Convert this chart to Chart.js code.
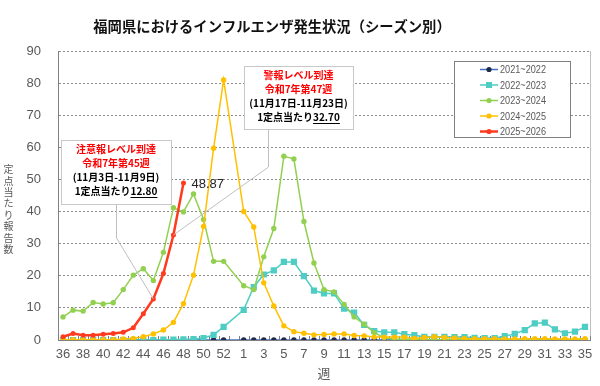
<!DOCTYPE html>
<html lang="ja">
<head>
<meta charset="UTF-8">
<title>福岡県におけるインフルエンザ発生状況</title>
<script src="https://cdn.jsdelivr.net/npm/chart.js@4.4.1/dist/chart.umd.min.js"></script>
<style>
  html, body { margin: 0; padding: 0; background: #fff; }
  #wrap { width: 600px; height: 386px; }
</style>
</head>
<body>
<div id="wrap"><canvas id="myChart"></canvas></div>
<script>
// 週 (week 36 of one year to week 35 of the next, incl. week 53 slot)
const weekLabels = ["36","37","38","39","40","41","42","43","44","45","46","47","48","49","50","51","52","53",
  "1","2","3","4","5","6","7","8","9","10","11","12","13","14","15","16","17","18","19","20",
  "21","22","23","24","25","26","27","28","29","30","31","32","33","34","35"];

const seasonNames = ["2021~2022", "2022~2023", "2023~2024", "2024~2025", "2025~2026"];

const s2021 = [0,0,0,0,0,0,0,0,0,0,0,0,0,0,0,0,0,null,
  0,0,0,0,0,0,0,0,0,0,0,0,0,0,0,0,0,0,0,0,0,0,0,0,0,0,0,0,0,0,0,0,0,0,0];
const s2022 = [0,0,0,0,0,0,0,0,0,0,0.1,0.1,0.2,0.3,0.6,1.6,4.1,null,
  9.4,16.5,20.4,21.7,24.3,24.3,19.9,15.4,14.5,14.5,9.8,8.5,4.7,2.8,2.4,2.4,1.8,1.5,
  1.0,1.0,1.0,0.9,0.9,0.7,0.6,0.6,1.2,1.9,3.1,5.2,5.4,3.3,2.1,2.6,4.1];
const s2023 = [7.2,9.3,9.0,11.7,11.2,11.6,15.7,20.2,22.2,18.5,27.3,41.2,39.9,45.5,37.5,24.5,24.5,null,
  16.9,15.7,25.9,34.7,57.2,56.4,36.9,24.0,15.7,15.0,11.1,7.2,4.9,2.3,0.7,0.3,0.2,0.2,
  0.2,0.1,0.1,0.1,0.1,0.1,0.1,0.1,0.1,0.1,0.1,0.1,0.1,0.1,0.1,0.1,0.1];
const s2024 = [0.1,0.1,0.1,0.1,0.1,0.1,0.3,0.5,1.0,1.9,3.1,5.5,11.3,20.2,35.4,59.7,81.0,null,
  40.0,35.2,17.8,10.6,4.4,2.6,2.1,1.6,1.7,1.9,1.9,1.4,1.3,0.9,0.9,0.9,0.9,0.5,
  0.8,1.0,0.8,0.6,0.5,0.4,0.4,0.4,0.3,0.3,0.4,0.4,0.4,0.3,0.3,0.3,0.4];
const s2025 = [1.0,2.0,1.5,1.5,1.8,2.0,2.4,3.8,8.2,12.8,20.7,32.7,48.87];

const yTicks = { min: 0, max: 90, step: 10 };

const seasonColors = ["#4472C4", "#4ECDC4", "#92D050", "#FFC000", "#FF3B1F"];
const markerColors = ["#1F2A4D", "#4ECDC4", "#92D050", "#FFC000", "#FF3B1F"];

// callouts for the 2025~2026 season
const callouts = [
  { l1: "警報レベル到達", l2: "令和7年第47週", l3: "(11月17日-11月23日)", pre: "1定点当たり", val: "32.70", idx: 11,
    box: [244, 66, 109, 63], elbow: [268, 167] },
  { l1: "注意報レベル到達", l2: "令和7年第45週", l3: "(11月3日-11月9日)", pre: "1定点当たり", val: "12.80", idx: 9,
    box: [61, 140, 110, 64], elbow: [116, 238] }
];

const JP = '"Noto Sans CJK JP", sans-serif';
Chart.defaults.font.family = '"Liberation Sans", "Noto Sans CJK JP", sans-serif';

const decor = {
  id: 'decor',
  beforeDatasetsDraw(chart) {
    const { ctx, chartArea: a, scales: { x } } = chart;
    ctx.save();
    ctx.strokeStyle = '#bfbfbf';
    ctx.lineWidth = 1;
    ctx.beginPath();
    ctx.moveTo(Math.round(a.right) + 0.5, a.top);
    ctx.lineTo(Math.round(a.right) + 0.5, a.bottom);
    ctx.stroke();
    // inward tick marks between categories
    const half = (x.getPixelForValue(1) - x.getPixelForValue(0)) / 2;
    ctx.strokeStyle = '#7f7f7f';
    ctx.beginPath();
    for (let i = 0; i <= weekLabels.length; i++) {
      const px = Math.round(x.getPixelForValue(i) - half) + 0.5;
      ctx.moveTo(px, a.bottom);
      ctx.lineTo(px, a.bottom - 4);
    }
    ctx.stroke();
    ctx.restore();
  },
  afterDatasetsDraw(chart) {
    const { ctx, scales: { x, y } } = chart;
    ctx.save();

    // title
    ctx.fillStyle = '#111';
    ctx.font = 'bold 14.3px ' + JP;
    ctx.textAlign = 'center';
    ctx.textBaseline = 'middle';
    ctx.fillText("福岡県におけるインフルエンザ発生状況（シーズン別）", 272, 27);

    // y axis title, stacked characters
    ctx.fillStyle = '#595959';
    ctx.font = '10px ' + JP;
    const yTitle = "定点当たり報告数";
    for (let i = 0; i < yTitle.length; i++) {
      ctx.fillText(yTitle[i], 8.5, 169.5 + i * 11.4);
    }

    // legend
    const lb = [454.5, 61.5, 116, 76];
    ctx.fillStyle = '#fff';
    ctx.fillRect(lb[0], lb[1], lb[2], lb[3]);
    ctx.strokeStyle = '#808080';
    ctx.lineWidth = 1;
    ctx.strokeRect(lb[0], lb[1], lb[2], lb[3]);
    chart.data.datasets.forEach((ds, i) => {
      const ly = 69.5 + i * 15.5;
      ctx.strokeStyle = ds.borderColor;
      ctx.lineWidth = ds.borderWidth;
      ctx.beginPath();
      ctx.moveTo(480, ly);
      ctx.lineTo(498, ly);
      ctx.stroke();
      ctx.fillStyle = ds.pointBackgroundColor;
      if (ds.pointStyle === 'rect') {
        ctx.fillRect(486, ly - 3, 6, 6);
      } else {
        ctx.beginPath();
        ctx.arc(489, ly, 2.6, 0, Math.PI * 2);
        ctx.fill();
      }
      // narrow legend text
      ctx.fillStyle = '#595959';
      ctx.font = '11.5px "Liberation Sans", sans-serif';
      ctx.textAlign = 'left';
      const w = ctx.measureText(ds.label).width;
      ctx.save();
      ctx.translate(500, ly + 0.5);
      ctx.scale(46 / w, 1);
      ctx.fillText(ds.label, 0, 0);
      ctx.restore();
    });

    // callouts
    callouts.forEach(c => {
      const px = x.getPixelForValue(c.idx);
      const py = y.getPixelForValue(s2025[c.idx]);
      const [bx, by, bw, bh] = c.box;
      ctx.strokeStyle = '#bfbfbf';
      ctx.lineWidth = 1;
      ctx.beginPath();
      ctx.moveTo(c.elbow[0] + 0.5, by + bh);
      ctx.lineTo(c.elbow[0] + 0.5, c.elbow[1]);
      ctx.lineTo(px, py);
      ctx.stroke();
      ctx.fillStyle = '#fff';
      ctx.fillRect(bx + 0.5, by + 0.5, bw, bh);
      ctx.strokeStyle = '#c8c8c8';
      ctx.strokeRect(bx + 0.5, by + 0.5, bw, bh);

      const cx = bx + bw / 2;
      ctx.textAlign = 'center';
      ctx.textBaseline = 'middle';
      ctx.font = 'bold 10px ' + JP;
      ctx.fillStyle = '#ff0000';
      ctx.fillText(c.l1, cx, by + 9.5);
      ctx.fillText(c.l2, cx, by + 23.5);
      ctx.fillStyle = '#000';
      ctx.fillText(c.l3, cx, by + 37.5);
      const wPre = ctx.measureText(c.pre).width;
      const wVal = ctx.measureText(c.val).width;
      const sx = cx - (wPre + wVal) / 2;
      ctx.textAlign = 'left';
      ctx.fillText(c.pre, sx, by + 51);
      ctx.fillText(c.val, sx + wPre, by + 51);
      ctx.fillRect(sx + wPre, by + 57, wVal, 1);
    });

    // last value label
    const last = s2025.length - 1;
    ctx.fillStyle = '#262626';
    ctx.font = '13px "Liberation Sans", sans-serif';
    ctx.textAlign = 'left';
    ctx.textBaseline = 'middle';
    ctx.fillText(String(s2025[last]), x.getPixelForValue(last) + 8, y.getPixelForValue(s2025[last]) + 1);

    ctx.restore();
  }
};

const seriesData = [s2021, s2022, s2023, s2024, s2025];
const datasets = seriesData.map((d, i) => ({
  label: seasonNames[i],
  data: d,
  borderColor: seasonColors[i],
  backgroundColor: markerColors[i],
  pointBackgroundColor: markerColors[i],
  pointBorderColor: markerColors[i],
  pointStyle: i === 1 ? 'rect' : 'circle',
  pointRadius: i === 1 ? 4.4 : (i === 4 ? 2.5 : 2.7),
  pointBorderWidth: 0,
  borderWidth: i === 4 ? 2.5 : 1.5,
  tension: 0,
  spanGaps: true,
  order: 5 - i
}));

new Chart("myChart", {
  type: "line",
  data: { labels: weekLabels, datasets: datasets },
  options: {
    responsive: true,
    maintainAspectRatio: false,
    animation: false,
    layout: { padding: { top: 51, right: 10, bottom: 0, left: 0 } },
    plugins: {
      legend: { display: false },
      title: { display: false },
      tooltip: { enabled: false }
    },
    scales: {
      x: {
        offset: true,
        afterFit: s => { s.height = 46; },
        grid: { display: false, drawTicks: false },
        border: { display: true, color: '#808080' },
        ticks: {
          autoSkip: false,
          maxRotation: 0,
          padding: 7,
          color: '#595959',
          font: { size: 13 },
          callback: (v, i) => (i % 2 === 0 ? weekLabels[i] : '')
        },
        title: { display: true, text: '週', color: '#595959', font: { size: 13, family: JP }, padding: { top: 0, bottom: 5 } }
      },
      y: {
        min: yTicks.min,
        max: yTicks.max,
        afterFit: s => { s.width = 58; },
        ticks: { stepSize: yTicks.step, padding: 17, color: '#595959', font: { size: 13 } },
        grid: { color: '#8c8c8c', drawTicks: false },
        border: { display: true, color: '#808080', dash: [2, 2] }
      }
    }
  },
  plugins: [decor]
});
</script>
</body>
</html>
